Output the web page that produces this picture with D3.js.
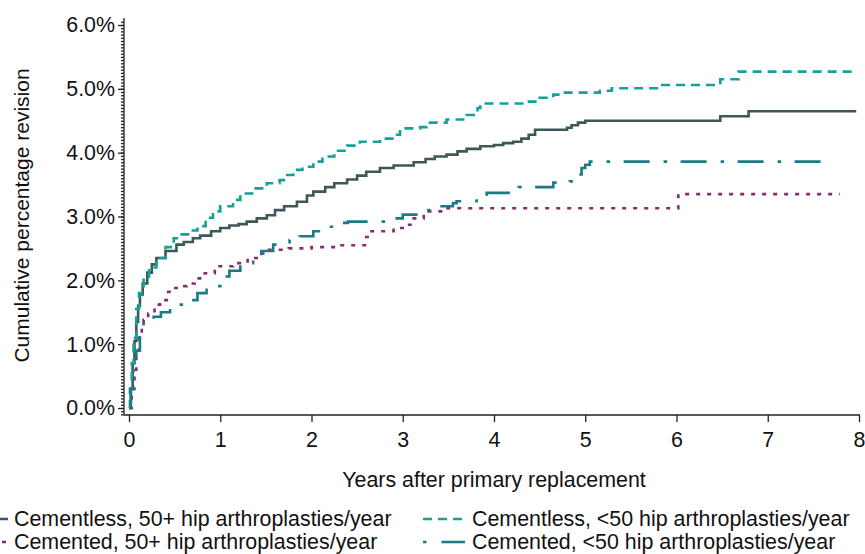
<!DOCTYPE html>
<html>
<head>
<meta charset="utf-8">
<script src="https://cdn.jsdelivr.net/npm/d3@7/dist/d3.min.js"></script>
<style>
html,body{margin:0;padding:0;background:#fff;}
svg{display:block;font-family:"Liberation Sans",Arial,sans-serif;}
</style>
</head>
<body>
<svg id="chart" width="865" height="554"></svg>
<script>
// ---- data ----
const xTicks = [0,1,2,3,4,5,6,7,8];
const yTicks = [0,1,2,3,4,5,6];
const xTitle = "Years after primary replacement";
const yTitle = "Cumulative percentage revision";
const seriesNames = [
  "Cementless, 50+ hip arthroplasties/year",
  "Cementless, <50 hip arthroplasties/year",
  "Cemented, 50+ hip arthroplasties/year",
  "Cemented, <50 hip arthroplasties/year"
];
// [years, cumulative % revision]
const cementless50plus = [[0,0],[0.02,0.3],[0.04,0.7],[0.06,1.05],[0.08,1.35],[0.1,1.6],[0.12,1.78],[0.15,1.95],[0.2,2.12],[0.25,2.25],[0.3,2.35],[0.4,2.46],[0.52,2.56],[0.6,2.6],[0.7,2.66],[0.78,2.70],[0.9,2.77],[1.0,2.82],[1.1,2.86],[1.2,2.88],[1.29,2.92],[1.4,2.97],[1.51,3.02],[1.6,3.1],[1.7,3.16],[1.84,3.23],[1.95,3.33],[2.02,3.39],[2.15,3.46],[2.25,3.52],[2.39,3.58],[2.5,3.64],[2.6,3.7],[2.75,3.76],[2.9,3.8],[3.12,3.85],[3.25,3.9],[3.35,3.94],[3.48,3.97],[3.6,4.02],[3.7,4.06],[3.85,4.10],[4.0,4.12],[4.1,4.15],[4.21,4.17],[4.3,4.22],[4.38,4.28],[4.45,4.36],[4.8,4.39],[4.85,4.43],[4.92,4.47],[5.0,4.50],[6.48,4.57],[6.79,4.65],[7.97,4.65]];
const cementlessUnder50 = [[0,0],[0.01,0.3],[0.03,0.7],[0.05,1.1],[0.08,1.55],[0.11,1.8],[0.16,2.03],[0.22,2.2],[0.3,2.35],[0.4,2.52],[0.49,2.66],[0.55,2.72],[0.67,2.78],[0.75,2.85],[0.84,2.98],[0.92,3.08],[1.0,3.16],[1.14,3.26],[1.22,3.36],[1.35,3.44],[1.51,3.52],[1.65,3.57],[1.72,3.65],[1.8,3.73],[1.9,3.78],[2.02,3.86],[2.12,3.94],[2.25,4.03],[2.39,4.11],[2.53,4.17],[2.75,4.22],[2.9,4.28],[2.97,4.38],[3.19,4.40],[3.26,4.47],[3.48,4.52],[3.70,4.59],[3.82,4.70],[3.85,4.77],[4.36,4.80],[4.50,4.86],[4.65,4.91],[4.76,4.94],[5.16,4.97],[5.29,5.01],[5.80,5.06],[6.48,5.15],[6.68,5.27],[7.92,5.27]];
const cemented50plus = [[0,0],[0.03,0.3],[0.06,0.6],[0.08,0.85],[0.11,1.1],[0.14,1.3],[0.16,1.38],[0.21,1.48],[0.28,1.62],[0.34,1.69],[0.43,1.82],[0.49,1.88],[0.54,1.91],[0.63,1.95],[0.72,2.03],[0.83,2.11],[0.94,2.22],[1.14,2.27],[1.3,2.35],[1.4,2.42],[1.51,2.48],[1.75,2.50],[2.0,2.52],[2.3,2.55],[2.6,2.68],[2.64,2.77],[2.9,2.82],[3.04,2.87],[3.12,2.97],[3.23,3.08],[3.46,3.13],[6.02,3.35],[7.79,3.35]];
const cementedUnder50 = [[0,0],[0.02,0.3],[0.05,0.65],[0.08,0.9],[0.12,1.17],[0.16,1.33],[0.27,1.43],[0.35,1.5],[0.45,1.56],[0.55,1.62],[0.63,1.69],[0.75,1.8],[0.85,1.91],[1.0,2.06],[1.1,2.15],[1.22,2.27],[1.36,2.36],[1.45,2.46],[1.58,2.56],[1.76,2.63],[1.87,2.69],[2.02,2.77],[2.13,2.84],[2.31,2.90],[2.4,2.92],[2.9,2.97],[3.0,3.03],[3.19,3.10],[3.30,3.16],[3.55,3.21],[3.59,3.24],[3.81,3.29],[3.92,3.37],[4.27,3.46],[4.65,3.53],[4.83,3.55],[4.92,3.66],[4.96,3.76],[5.0,3.81],[5.05,3.86],[7.71,3.86]];

// ---- styles ----
const styles = [
  {data: cementless50plus, color:"#3d5859", dash:null, legDash:null, legOff:0, legend:{col:0,row:0}},
  {data: cementlessUnder50, color:"#0fa39a", dash:"9,6", legDash:"9,6", legOff:0, legend:{col:1,row:0}},
  {data: cemented50plus, color:"#8b2a6c", dash:"4,7", legDash:"4,7", legOff:-3, legend:{col:0,row:1}},
  {data: cementedUnder50, color:"#1b7a86", dash:"26,14,3.5,13.5", legDash:"3.5,15,26,13", legOff:0, legend:{col:1,row:1}}
];

const svg = d3.select("#chart");
const x = d3.scaleLinear().domain([0,8]).range([129,859]);
const y = d3.scaleLinear().domain([0,6]).range([408,25]);
const axisColor = "#222";
const fontSize = 21.4;

// y axis line
svg.append("line").attr("x1",124).attr("x2",124).attr("y1",y(6.11)).attr("y2",y(-0.11))
  .attr("stroke",axisColor).attr("stroke-width",1.3);
// x axis line
svg.append("line").attr("x1",124).attr("x2",860).attr("y1",415).attr("y2",415)
  .attr("stroke",axisColor).attr("stroke-width",1.3);

// minor y ticks
const minorVals = d3.range(-2,123).map(i=>i*0.05).filter(v=>v>=-0.1 && v<=6.1);
const yMinor = svg.append("g").attr("transform","translate(124,0)")
  .call(d3.axisLeft(y).tickValues(minorVals).tickSize(3).tickFormat(""));
yMinor.select(".domain").remove();
yMinor.selectAll("line").attr("stroke",axisColor).attr("stroke-width",1.3);

// major y ticks
const yAxis = svg.append("g").attr("transform","translate(124,0)")
  .call(d3.axisLeft(y).tickValues(yTicks).tickSize(6).tickPadding(3).tickFormat(d=>d3.format(".1f")(d)+"%"));
yAxis.select(".domain").remove();
yAxis.selectAll("line").attr("stroke",axisColor).attr("stroke-width",1.3);
yAxis.selectAll("text").attr("font-size",fontSize).attr("font-family","Liberation Sans, Arial, sans-serif").attr("fill","#111");

// x ticks
const xAxis = svg.append("g").attr("transform","translate(0,415)")
  .call(d3.axisBottom(x).tickValues(xTicks).tickSize(7).tickPadding(10).tickFormat(d3.format("d")));
xAxis.select(".domain").remove();
xAxis.selectAll("line").attr("stroke",axisColor).attr("stroke-width",1.3);
xAxis.selectAll("text").attr("font-size",fontSize).attr("font-family","Liberation Sans, Arial, sans-serif").attr("fill","#111");

// titles
svg.append("text").attr("x",494).attr("y",487).attr("text-anchor","middle")
  .attr("font-size",fontSize).attr("fill","#111").text(xTitle);
svg.append("text").attr("transform","translate(29,215.5) rotate(-90)").attr("text-anchor","middle")
  .attr("font-size",21).attr("fill","#111").text(yTitle);

// lines
const line = d3.line().x(d=>x(d[0])).y(d=>y(d[1])).curve(d3.curveStepAfter);
styles.forEach(s=>{
  svg.append("path").datum(s.data).attr("d",line).attr("fill","none")
    .attr("stroke",s.color).attr("stroke-width",2.6)
    .attr("stroke-dasharray",s.dash);
});

// legend
const legX = [{x1:-34,x2:8,tx:14},{x1:423,x2:465,tx:472}];
const legY = [519,542];
styles.forEach((s,i)=>{
  const c = legX[s.legend.col], ry = legY[s.legend.row];
  svg.append("line").attr("x1",c.x1).attr("x2",c.x2).attr("y1",ry).attr("y2",ry)
    .attr("stroke",s.color).attr("stroke-width",2.6)
    .attr("stroke-dasharray",s.legDash).attr("stroke-dashoffset",s.legOff);
  svg.append("text").attr("x",c.tx).attr("y",ry).attr("dy","0.35em")
    .attr("font-size",fontSize).attr("fill","#111").text(seriesNames[i]);
});
</script>
</body>
</html>
